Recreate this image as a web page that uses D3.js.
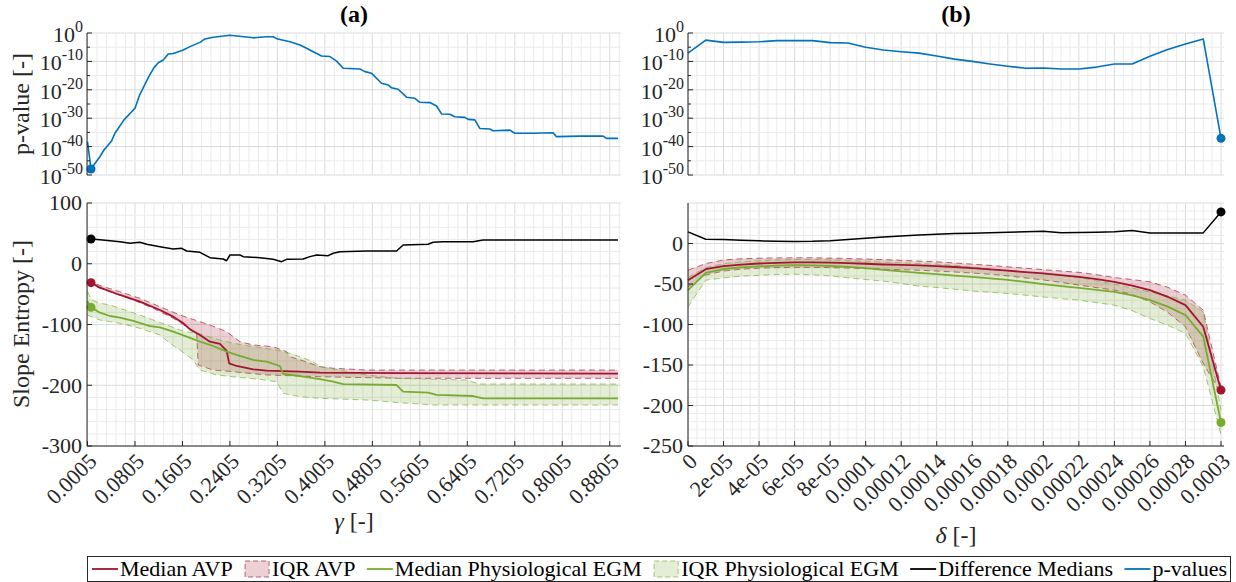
<!DOCTYPE html>
<meta charset="utf-8">
<script src="https://d3js.org/d3.v7.min.js"></script>
<style>
  body { margin: 0; background: #fff; }
  text { font-family: "Liberation Serif", "Times New Roman", serif; fill: #262626; }
</style>
<div id="chart"></div>
<script>

// ---------- data ----------
// panel (a): [gamma, value]
var pLogA = [[0.0005,-38.3],[0.0064,-47.9],[0.0216,-43.5],[0.0283,-41.2],[0.0413,-37.9],[0.0468,-35.3],
  [0.062,-30.6],[0.0805,-26.5],[0.0889,-21.6],[0.1029,-15.7],[0.1125,-12.2],[0.1198,-10.5],[0.1282,-9.5],
  [0.1366,-7.4],[0.145,-7.2],[0.1619,-6.0],[0.1732,-4.8],[0.19,-3.3],[0.1984,-2.1],[0.2124,-1.5],
  [0.2406,-0.8],[0.2798,-1.7],[0.3023,-1.3],[0.3135,-1.3],[0.3192,-2.0],[0.3416,-3.1],[0.3585,-4.2],
  [0.3697,-5.4],[0.3808,-6.6],[0.395,-8.1],[0.409,-8.3],[0.4202,-9.9],[0.4314,-12.4],[0.4595,-12.7],
  [0.4679,-13.6],[0.4792,-14.2],[0.496,-17.7],[0.5072,-18.3],[0.5129,-19.3],[0.524,-19.8],[0.5382,-22.6],
  [0.5521,-23.0],[0.5606,-24.4],[0.5774,-24.5],[0.5887,-25.7],[0.5971,-28.5],[0.6111,-28.6],[0.6195,-29.5],
  [0.6364,-29.7],[0.6419,-30.4],[0.6532,-30.6],[0.6616,-33.6],[0.6785,-33.8],[0.684,-34.4],[0.7121,-34.2],
  [0.7206,-35.3],[0.7514,-35.3],[0.7851,-35.1],[0.7908,-36.5],[0.8301,-36.3],[0.8693,-36.3],[0.875,-37.1],
  [0.8945,-37.1]];

var diffA = [[0.0005,40.5],[0.0064,40.7],[0.0216,39.5],[0.0384,38],[0.0552,36.3],[0.0721,33.6],[0.0889,35.3],
  [0.1002,32],[0.1226,28],[0.145,24.3],[0.1592,25.4],[0.1676,21],[0.19,18.8],[0.2068,10],[0.2292,7.8],
  [0.235,5],[0.2406,14.4],[0.2574,14.4],[0.2629,11.7],[0.2911,10],[0.3135,7.3],[0.3276,3.4],[0.336,7.3],
  [0.364,7.8],[0.3753,11.7],[0.3866,14.4],[0.4061,13.3],[0.4145,17.2],[0.4258,19.9],[0.4708,21],
  [0.5213,21],[0.5324,30.9],[0.5745,32],[0.583,35.3],[0.5998,36.3],[0.6503,36.3],[0.6672,39.1],[0.8945,39.1]];

var medAvpA = [[0.0005,-29],[0.0064,-31.1],[0.0216,-39.4],[0.0552,-51.4],[0.0889,-62.4],[0.1226,-76.1],
  [0.145,-87.1],[0.1619,-98],[0.1732,-108],[0.19,-117.3],[0.2068,-128.3],[0.2237,-132],[0.235,-143.6],
  [0.2393,-163.9],[0.2518,-168.3],[0.2798,-173.8],[0.3023,-176],[0.3585,-177.7],[0.3922,-179.3],
  [0.5269,-180],[0.8945,-181]];
var q3AvpA = [[0.0005,-27],[0.0064,-29.5],[0.0216,-36],[0.0552,-46],[0.0889,-57],[0.1226,-70.7],[0.1563,-84.4],
  [0.19,-95.4],[0.2068,-100.8],[0.235,-111.8],[0.2574,-128.3],[0.2798,-133.7],[0.3135,-136.5],[0.336,-144.7],
  [0.3416,-153],[0.3585,-158],[0.3922,-169.4],[0.4145,-172],[0.4708,-175],[0.8945,-175]];
var q1AvpA = [[0.0005,-33],[0.0064,-35],[0.0384,-46],[0.0776,-59.7],[0.1113,-73.4],[0.145,-89.8],
  [0.1676,-103.6],[0.1844,-114.6],[0.1871,-166.7],[0.2124,-175],[0.2461,-177.7],[0.3023,-183],
  [0.3922,-186],[0.5269,-188.6],[0.8945,-188.6]];

var medEgmA = [[0.0005,-62],[0.0064,-71.8],[0.0216,-80.5],[0.0384,-86],[0.0552,-88.7],[0.0776,-94.2],
  [0.1058,-102.5],[0.1226,-104.6],[0.145,-111.8],[0.1676,-120],[0.19,-128.3],[0.2124,-135.4],[0.235,-144.7],
  [0.2574,-151.8],[0.2798,-158.4],[0.3023,-161.2],[0.3248,-168.3],[0.3303,-181.5],[0.3585,-184.8],
  [0.3922,-190],[0.4145,-194.2],[0.4314,-198],[0.5213,-199.6],[0.5324,-210.6],[0.5745,-212.2],
  [0.5887,-216],[0.6503,-217.7],[0.6672,-221.5],[0.8945,-221.5]];
var q3EgmA = [[0.0005,-46],[0.0076,-59.7],[0.0216,-65],[0.0384,-67.9],[0.0552,-73.4],[0.0889,-84.4],
  [0.1113,-92.6],[0.1339,-100.8],[0.1563,-109],[0.1676,-111.8],[0.19,-115.6],[0.2237,-125.5],[0.2461,-131],
  [0.2798,-136.5],[0.3192,-142],[0.3416,-147.5],[0.3585,-153],[0.3808,-161.2],[0.3922,-169.4],
  [0.4258,-175],[0.4708,-183],[0.5213,-188.6],[0.6392,-191.4],[0.6616,-198],[0.8945,-198]];
var q1EgmA = [[0.0005,-84.4],[0.0216,-92.6],[0.0552,-98],[0.0889,-106.3],[0.1226,-117.3],[0.1395,-131],
  [0.1563,-142],[0.1787,-158.4],[0.19,-175],[0.2181,-183],[0.2461,-186],[0.2911,-190.3],[0.3192,-194.2],
  [0.3303,-213.3],[0.3585,-218.8],[0.3922,-221.5],[0.4708,-224.3],[0.5269,-228.7],[0.583,-232.5],
  [0.8945,-232.5]];

// panel (b): one value per delta
var deltas = [0,0.00001,0.00002,0.00003,0.00004,0.00005,0.00006,0.00007,0.00008,0.00009,0.0001,
  0.00011,0.00012,0.00013,0.00014,0.00015,0.00016,0.00017,0.00018,0.00019,0.0002,
  0.00021,0.00022,0.00023,0.00024,0.00025,0.00026,0.00027,0.00028,0.00029,0.0003];
var pLogB = [-7.1,-2.5,-3.3,-3.2,-3.1,-2.7,-2.7,-2.7,-3.4,-3.5,-5.0,-6.0,-6.6,-7.1,-8.1,-9.2,-10.0,
  -10.9,-11.7,-12.4,-12.3,-12.7,-12.7,-12.0,-10.9,-10.9,-8.2,-5.8,-3.9,-2.1,-37.1];
var diffB = [14.3,5.3,4.8,4.1,3.3,2.8,2.6,2.8,3.5,4.9,6.5,8.1,9.3,10.5,11.3,12.3,12.8,13.3,13.9,14.5,
  15.0,13.3,13.6,14.0,14.5,16.0,13.1,13.1,13.1,13.1,39.0];
var medAvpB = [-45.3,-31.7,-28,-26,-24.7,-23.8,-23.4,-23.4,-23.6,-24.3,-25,-25.9,-26.4,-27,-28,-29,
  -30.4,-32,-33.6,-35.3,-37,-39,-41.1,-44,-47.3,-52,-57.6,-65.8,-76.1,-102.8,-181];
var q3AvpB = [-33,-24.7,-20.5,-18.8,-18.2,-17.8,-17.6,-17.6,-18,-18.5,-19.2,-20,-20.8,-21.8,-22.6,-24,
  -25.5,-27,-28.8,-30.5,-32.3,-34,-35.6,-38.5,-42,-44.5,-47.3,-54,-63.8,-82.3,-177];
var q1AvpB = [-53.5,-39,-34,-31.7,-30.5,-29.8,-29.5,-29.5,-29.8,-30.3,-31,-31.7,-32.3,-33,-34,-35.2,
  -36.5,-38,-40,-42.5,-45,-48,-51.4,-54.5,-57.6,-63,-72,-85,-102.8,-148,-185];
var medEgmB = [-57.6,-36.2,-31.5,-29.6,-28.3,-27.3,-26.8,-27,-27.8,-28.9,-30.5,-32.5,-34.5,-36.2,-37.9,
  -39.6,-41.3,-43,-45,-47.5,-50.2,-52.5,-54.8,-57.2,-59.7,-64,-70,-78,-88.4,-115,-221];
var q3EgmB = [-42,-29.6,-25,-22.5,-21.4,-20.3,-19.7,-19.7,-20.2,-21.2,-22,-22.8,-23.8,-24.8,-25.5,-27,
  -29,-31.5,-33.5,-35.5,-37.5,-39.8,-42,-46,-50.2,-55,-59.7,-64.5,-70,-84.4,-205.6];
var q1EgmB = [-78.2,-45.3,-42.5,-40.3,-39.2,-38.3,-38,-38.6,-40,-42.5,-44.5,-46.5,-49.3,-52.7,-54.3,
  -56.5,-58.5,-60.2,-61.8,-63.8,-66,-68,-70,-73,-76.1,-83,-92.5,-101,-111,-152,-236.4];

// ticks
var gammaLabels = ["0.0005","0.0805","0.1605","0.2405","0.3205","0.4005","0.4805","0.5605",
  "0.6405","0.7205","0.8005","0.8805"];
var deltaLabels = ["0","2e-05","4e-05","6e-05","8e-05","0.0001","0.00012","0.00014","0.00016",
  "0.00018","0.0002","0.00022","0.00024","0.00026","0.00028","0.0003"];
var pExpTicks = [0,-10,-20,-30,-40,-50];
var slopeTicksA = [100,0,-100,-200,-300];
var slopeTicksB = [0,-50,-100,-150,-200,-250];

// ---------- styling ----------
var cAvp = "#A2142F", cEgm = "#77AC30", cBlue = "#0072BD", cAxis = "#262626";
var fAvp = "rgba(162,20,47,0.2)", fEgm = "rgba(119,172,48,0.2)";
var gridMajor = "#dadada", gridMinor = "#ebebeb";

var svg = d3.select("#chart").append("svg")
  .attr("width", 1236).attr("height", 582);

var topY = [33, 175], botY = [203, 446];

var xA = d3.scaleLinear().domain([0, 0.8995]).range([87.2, 621]);
var xB = d3.scaleLinear().domain([0, 0.0003]).range([688, 1221]);
var boxA = [87, 621], boxB = [688, 1224];

var yTop = d3.scaleLog().domain([1e-50, 1]).range([topY[1], topY[0]]);
var yBotA = d3.scaleLinear().domain([-300, 100]).range([botY[1], botY[0]]);
var yBotB = d3.scaleLinear().domain([-250, 50]).range([botY[1], botY[0]]);

function grid(g, box, yr, xs, xMinor, xMajorEvery, ys, yMinor, yMajorEvery) {
  xMinor.forEach(function(v, i) {
    g.append("line")
      .attr("x1", xs(v)).attr("x2", xs(v)).attr("y1", yr[0]).attr("y2", yr[1])
      .attr("stroke", i % xMajorEvery == 0 ? gridMajor : gridMinor).attr("stroke-width", 1);
  });
  yMinor.forEach(function(v, i) {
    g.append("line")
      .attr("x1", box[0]).attr("x2", box[1]).attr("y1", ys(v)).attr("y2", ys(v))
      .attr("stroke", i % yMajorEvery == 0 ? gridMajor : gridMinor).attr("stroke-width", 1);
  });
}

var gammaMinor = d3.range(0, 57).map(function(k) { return 0.0005 + k * 0.016; });
var deltaMinor = d3.range(0, 61).map(function(k) { return k * 5e-6; });
var expMinor = d3.range(0, 11).map(function(k) { return Math.pow(10, -5 * k); });
var slopeMinorA = d3.range(0, 21).map(function(k) { return 100 - 20 * k; });
var slopeMinorB = d3.range(0, 31).map(function(k) { return 50 - 10 * k; });

var gTA = svg.append("g"), gBA = svg.append("g"), gTB = svg.append("g"), gBB = svg.append("g");
grid(gTA, boxA, topY, xA, gammaMinor, 5, yTop, expMinor, 2);
grid(gBA, boxA, botY, xA, gammaMinor, 5, yBotA, slopeMinorA, 5);
grid(gTB, boxB, topY, xB, deltaMinor, 4, yTop, expMinor, 2);
grid(gBB, boxB, botY, xB, deltaMinor, 4, yBotB, slopeMinorB, 5);

// ---------- marks ----------
var lineA = function(ys) { return d3.line().x(function(d) { return xA(d[0]); }).y(function(d) { return ys(d[1]); }); };
var lineB = function(ys) { return d3.line().x(function(d, i) { return xB(deltas[i]); }).y(function(d) { return ys(d); }); };

function band(g, path, upper, lower, fill, col) {
  var poly = upper.concat(lower.slice().reverse());
  g.append("path").attr("d", path.poly(poly) + "Z").attr("fill", fill).attr("stroke", "none");
  [upper, lower].forEach(function(s) {
    g.append("path").attr("d", path.line(s)).attr("fill", "none")
      .attr("stroke", col).attr("stroke-opacity", 0.65).attr("stroke-width", 1)
      .attr("stroke-dasharray", "6,4");
  });
}

function curve(g, d, col, w) {
  g.append("path").attr("d", d).attr("fill", "none").attr("stroke", col)
    .attr("stroke-width", w).attr("stroke-linejoin", "round");
}
function dot(g, x, y, col) {
  g.append("circle").attr("cx", x).attr("cy", y).attr("r", 4.5).attr("fill", col);
}

// panel (a) bottom
var pathA = { line: lineA(yBotA), poly: lineA(yBotA) };
band(gBA, pathA, q3AvpA, q1AvpA, fAvp, cAvp);
band(gBA, pathA, q3EgmA, q1EgmA, fEgm, cEgm);
curve(gBA, pathA.line(medAvpA), cAvp, 1.8);
curve(gBA, pathA.line(medEgmA), cEgm, 1.8);
curve(gBA, pathA.line(diffA), "#000", 1.5);

// best gamma = lowest p-value
var bestA = pLogA.reduce(function(a, b) { return b[1] < a[1] ? b : a; })[0];
function at(s, g) { return s.filter(function(d) { return d[0] == g; })[0][1]; }
dot(gBA, xA(bestA), yBotA(at(medAvpA, bestA)), cAvp);
dot(gBA, xA(bestA), yBotA(at(medEgmA, bestA)), cEgm);
dot(gBA, xA(bestA), yBotA(at(diffA, bestA)), "#000");

// panel (a) top
curve(gTA, d3.line().x(function(d) { return xA(d[0]); }).y(function(d) { return yTop(Math.pow(10, d[1])); })(pLogA), cBlue, 1.6);
dot(gTA, xA(bestA), yTop(Math.pow(10, at(pLogA, bestA))), cBlue);

// panel (b) bottom
var pathB = {
  line: lineB(yBotB),
  poly: d3.line().x(function(d) { return xB(d[0]); }).y(function(d) { return yBotB(d[1]); })
};
function bandB(upper, lower, fill, col) {
  var up = upper.map(function(v, i) { return [deltas[i], v]; });
  var lo = lower.map(function(v, i) { return [deltas[i], v]; });
  gBB.append("path").attr("d", pathB.poly(up.concat(lo.slice().reverse())) + "Z").attr("fill", fill);
  [upper, lower].forEach(function(s) {
    gBB.append("path").attr("d", pathB.line(s)).attr("fill", "none")
      .attr("stroke", col).attr("stroke-opacity", 0.65).attr("stroke-width", 1)
      .attr("stroke-dasharray", "6,4");
  });
}
bandB(q3AvpB, q1AvpB, fAvp, cAvp);
bandB(q3EgmB, q1EgmB, fEgm, cEgm);
curve(gBB, pathB.line(medAvpB), cAvp, 1.8);
curve(gBB, pathB.line(medEgmB), cEgm, 1.8);
curve(gBB, pathB.line(diffB), "#000", 1.5);

var bestB = pLogB.indexOf(d3.min(pLogB));
dot(gBB, xB(deltas[bestB]), yBotB(medAvpB[bestB]), cAvp);
dot(gBB, xB(deltas[bestB]), yBotB(medEgmB[bestB]), cEgm);
dot(gBB, xB(deltas[bestB]), yBotB(diffB[bestB]), "#000");

// panel (b) top
curve(gTB, d3.line().x(function(d, i) { return xB(deltas[i]); }).y(function(d) { return yTop(Math.pow(10, d)); })(pLogB), cBlue, 1.6);
dot(gTB, xB(deltas[bestB]), yTop(Math.pow(10, pLogB[bestB])), cBlue);

// ---------- axes ----------
function yAxisLine(g, x, yr) {
  g.append("line").attr("x1", x).attr("x2", x).attr("y1", yr[0]).attr("y2", yr[1])
    .attr("stroke", cAxis).attr("stroke-width", 1);
}
function yTick(g, x, y, len) {
  g.append("line").attr("x1", x).attr("x2", x + len).attr("y1", y).attr("y2", y)
    .attr("stroke", cAxis).attr("stroke-width", 1);
}

[[gTA, boxA[0]], [gTB, boxB[0]]].forEach(function(p) {
  var g = p[0], x = p[1];
  yAxisLine(g, x, topY);
  expMinor.forEach(function(v, i) { yTick(g, x, yTop(v), i % 2 == 0 ? 5 : 3); });
  pExpTicks.forEach(function(e) {
    var t = g.append("text").attr("x", x - 4).attr("y", yTop(Math.pow(10, e)) + 9)
      .attr("text-anchor", "end").style("font-size", "22px");
    t.append("tspan").text("10");
    t.append("tspan").attr("dy", -10).style("font-size", "16px").text(String(e));
  });
});

function slopeAxis(g, x, ys, ticks) {
  yAxisLine(g, x, botY);
  ticks.forEach(function(v) {
    yTick(g, x, ys(v), 5);
    g.append("text").attr("x", x - 5).attr("y", ys(v)).attr("dy", "0.34em")
      .attr("text-anchor", "end").style("font-size", "22px").text(v);
  });
}
slopeAxis(gBA, boxA[0], yBotA, slopeTicksA);
slopeAxis(gBB, boxB[0], yBotB, slopeTicksB);

function xAxis(g, box, xs, labels) {
  g.append("line").attr("x1", box[0]).attr("x2", box[1]).attr("y1", botY[1]).attr("y2", botY[1])
    .attr("stroke", cAxis).attr("stroke-width", 1);
  labels.forEach(function(l) {
    var x = xs(+l);
    g.append("line").attr("x1", x).attr("x2", x).attr("y1", botY[1]).attr("y2", botY[1] - 5)
      .attr("stroke", cAxis).attr("stroke-width", 1);
    g.append("text").attr("transform", "translate(" + (x + 1) + "," + (botY[1] + 7) + ") rotate(-45)")
      .attr("text-anchor", "end").attr("dy", "0.62em").style("font-size", "22px").text(l);
  });
}
xAxis(gBA, boxA, xA, gammaLabels);
xAxis(gBB, boxB, xB, deltaLabels);

// axis labels
svg.append("text").attr("transform", "translate(29,104) rotate(-90)")
  .attr("text-anchor", "middle").style("font-size", "24px").text("p-value [-]");
svg.append("text").attr("transform", "translate(29,324) rotate(-90)")
  .attr("text-anchor", "middle").style("font-size", "24px").text("Slope Entropy [-]");

var gl = svg.append("text").attr("x", (boxA[0] + boxA[1]) / 2).attr("y", 529)
  .attr("text-anchor", "middle").style("font-size", "24px");
gl.append("tspan").style("font-style", "italic").text("γ");
gl.append("tspan").text(" [-]");
var dl = svg.append("text").attr("x", (boxB[0] + boxB[1]) / 2).attr("y", 543)
  .attr("text-anchor", "middle").style("font-size", "24px");
dl.append("tspan").style("font-style", "italic").text("δ");
dl.append("tspan").text(" [-]");

// titles
svg.append("text").attr("x", (boxA[0] + boxA[1]) / 2).attr("y", 22).attr("text-anchor", "middle")
  .style("font-size", "24px").style("font-weight", "bold").style("fill", "#000").text("(a)");
svg.append("text").attr("x", (boxB[0] + boxB[1]) / 2).attr("y", 22).attr("text-anchor", "middle")
  .style("font-size", "24px").style("font-weight", "bold").style("fill", "#000").text("(b)");

// ---------- legend ----------
var legendItems = [
  {label: "Median AVP", kind: "line", color: cAvp},
  {label: "IQR AVP", kind: "patch", color: cAvp, fill: fAvp},
  {label: "Median Physiological EGM", kind: "line", color: cEgm},
  {label: "IQR Physiological EGM", kind: "patch", color: cEgm, fill: fEgm},
  {label: "Difference Medians", kind: "line", color: "#000"},
  {label: "p-values", kind: "line", color: cBlue}
];
var leg = svg.append("g");
leg.append("rect").attr("x", 87.5).attr("y", 556.5).attr("width", 1143).attr("height", 25)
  .attr("fill", "#fff").attr("stroke", cAxis).attr("stroke-width", 1);
var ly = 569;
var texts = legendItems.map(function(it) {
  return leg.append("text").attr("y", ly).attr("dy", "0.34em")
    .style("font-size", "22px").style("fill", "#000").text(it.label);
});
var iconW = 26;
var used = d3.sum(texts, function(t) { return t.node().getComputedTextLength(); }) + legendItems.length * (iconW + 2);
var gap = (1143 - 8 - used) / (legendItems.length - 1);
var lx = 92;
legendItems.forEach(function(it, i) {
  if (it.kind == "line") {
    leg.append("line").attr("x1", lx).attr("x2", lx + iconW).attr("y1", ly).attr("y2", ly)
      .attr("stroke", it.color).attr("stroke-width", 1.8);
  } else {
    leg.append("rect").attr("x", lx + 1).attr("y", ly - 8).attr("width", iconW - 2).attr("height", 16)
      .attr("fill", it.fill).attr("stroke", it.color).attr("stroke-opacity", 0.65)
      .attr("stroke-dasharray", "5,3");
  }
  texts[i].attr("x", lx + iconW + 2);
  lx = lx + iconW + 2 + texts[i].node().getComputedTextLength() + gap;
});

</script>
